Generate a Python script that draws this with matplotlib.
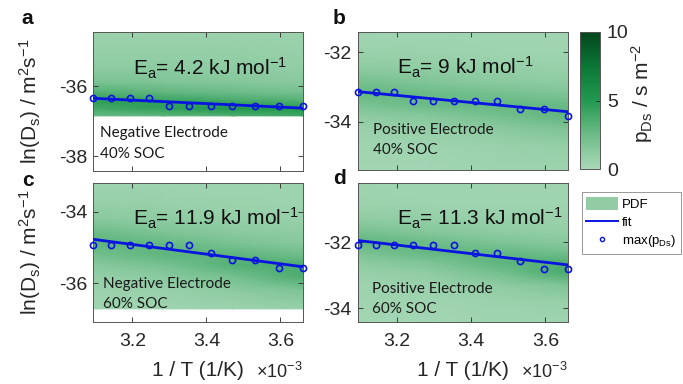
#!/usr/bin/env python3
"""Arrhenius plots of ln(D_s) with the PDF of D_s in the background."""

import matplotlib

matplotlib.use("Agg")
import matplotlib.pyplot as plt
import numpy as np
from matplotlib.colors import LinearSegmentedColormap
from matplotlib.lines import Line2D
from matplotlib.patches import Patch

plt.rcParams["font.family"] = ["Liberation Sans", "DejaVu Sans"]
plt.rcParams["axes.unicode_minus"] = False
plt.rcParams["mathtext.fontset"] = "custom"
plt.rcParams["mathtext.rm"] = "Liberation Sans"
plt.rcParams["mathtext.it"] = "Liberation Sans:italic"
plt.rcParams["mathtext.bf"] = "Liberation Sans:bold"

# 1/T in 1e-3 1/K (50 C down to 0 C in 5 C steps)
inv_T = [3.0945, 3.1432, 3.1934, 3.2452, 3.2987, 3.3540, 3.4112, 3.4704, 3.5317, 3.5952, 3.6610]
fit_x = [3.0945, 3.6610]

# max(p_Ds) per temperature
max_a = [-36.35, -36.35, -36.35, -36.35, -36.57, -36.57, -36.57, -36.57, -36.57, -36.57, -36.57]
max_b = [-33.15, -33.15, -33.15, -33.39, -33.39, -33.39, -33.39, -33.39, -33.62, -33.62, -33.84]
max_c = [-34.92, -34.92, -34.92, -34.92, -34.92, -34.92, -35.14, -35.35, -35.35, -35.58, -35.58]
max_d = [-32.09, -32.09, -32.09, -32.09, -32.09, -32.09, -32.33, -32.33, -32.57, -32.80, -32.80]

# fitted line end points
fit_a = [-36.35, -36.63]
fit_b = [-33.13, -33.71]
fit_c = [-34.77, -35.54]
fit_d = [-31.94, -32.68]

ea_labels = ["4.2", "9", "11.9", "11.3"]
electrodes = ["Negative Electrode", "Positive Electrode", "Negative Electrode", "Positive Electrode"]
socs = ["40% SOC", "40% SOC", "60% SOC", "60% SOC"]
ylims = [(-38.42, -34.47), (-35.39, -31.42), (-37.08, -33.19), (-34.40, -30.20)]

# coarse PDF grid estimated from the background shading (rows: lnD, cols: 1/T)
pdf_x = [3.0945, 3.283, 3.472, 3.661]
pdf_rows_a = [-34.40, -35.00, -35.50, -35.90, -36.20, -36.45, -36.65, -36.85]
pdf_a = [
    [0.6, 0.6, 0.6, 0.6],
    [0.9, 0.9, 0.9, 0.8],
    [1.2, 1.2, 1.1, 1.0],
    [2.0, 1.8, 1.6, 1.4],
    [3.5, 3.0, 2.6, 2.2],
    [4.6, 4.5, 4.0, 3.5],
    [3.8, 4.5, 5.0, 5.0],
    [2.6, 3.0, 3.5, 4.0],
]
pdf_rows_b = [-31.30, -32.00, -32.50, -32.90, -33.20, -33.50, -33.80, -34.20, -34.70, -35.50]
pdf_b = [
    [0.4, 0.4, 0.4, 0.4],
    [0.7, 0.6, 0.5, 0.4],
    [1.3, 1.1, 0.9, 0.8],
    [2.3, 1.8, 1.4, 1.2],
    [2.8, 2.6, 2.2, 1.8],
    [2.0, 2.6, 2.8, 2.6],
    [1.2, 1.6, 2.3, 3.0],
    [0.7, 0.9, 1.3, 1.8],
    [0.4, 0.5, 0.7, 0.9],
    [0.3, 0.3, 0.4, 0.5],
]
pdf_rows_c = [-33.10, -33.70, -34.20, -34.60, -34.90, -35.20, -35.50, -35.80, -36.20, -36.72]
pdf_c = [
    [0.5, 0.5, 0.5, 0.5],
    [0.8, 0.7, 0.6, 0.5],
    [1.4, 1.1, 0.9, 0.8],
    [2.6, 1.9, 1.4, 1.1],
    [3.0, 2.8, 2.0, 1.5],
    [2.2, 3.0, 3.0, 2.4],
    [1.4, 2.0, 3.3, 3.6],
    [0.9, 1.3, 2.3, 3.6],
    [0.6, 0.8, 1.2, 1.8],
    [0.4, 0.5, 0.6, 0.8],
]
pdf_rows_d = [-30.10, -30.80, -31.30, -31.70, -32.00, -32.30, -32.60, -32.90, -33.30, -33.80, -34.50]
pdf_d = [
    [0.4, 0.4, 0.4, 0.4],
    [0.6, 0.5, 0.5, 0.4],
    [1.1, 0.9, 0.8, 0.7],
    [2.2, 1.6, 1.2, 1.0],
    [2.9, 2.5, 1.8, 1.4],
    [2.0, 2.8, 2.8, 2.2],
    [1.2, 1.8, 3.0, 3.4],
    [0.8, 1.1, 2.2, 3.8],
    [0.5, 0.7, 1.1, 1.8],
    [0.4, 0.4, 0.6, 0.8],
    [0.3, 0.3, 0.4, 0.4],
]

cmap = LinearSegmentedColormap.from_list(
    "pdf_green",
    [(0.0, "#aad9b9"), (0.25, "#6dbc88"), (0.5, "#22994f"), (0.75, "#0b7636"), (1.0, "#03461d")],
)
LINE_BLUE = "#0a14e0"
AX_COLOR = "#262626"

W, H = 683, 384
fig = plt.figure(figsize=(W / 100, H / 100), dpi=100)


def rect(x0, y0, x1, y1):
    return [x0 / W, 1 - y1 / H, (x1 - x0) / W, (y1 - y0) / H]


rects = [
    rect(93.3, 32.3, 303.0, 171.0),
    rect(357.5, 32.3, 568.0, 170.0),
    rect(93.3, 183.0, 303.0, 321.7),
    rect(357.5, 183.0, 568.0, 321.7),
]
panels = [
    (pdf_rows_a, pdf_a, max_a, fit_a),
    (pdf_rows_b, pdf_b, max_b, fit_b),
    (pdf_rows_c, pdf_c, max_c, fit_c),
    (pdf_rows_d, pdf_d, max_d, fit_d),
]

mesh = None
for i, (rows, pdf, pts, fit) in enumerate(panels):
    ax = fig.add_axes(rects[i])
    mesh = ax.pcolormesh(pdf_x, rows, np.array(pdf), shading="gouraud", cmap=cmap, vmin=0, vmax=10)
    ax.plot(fit_x, fit, color=LINE_BLUE, lw=2.0, zorder=3)
    ax.plot(inv_T, pts, "o", ms=4.4, mfc="none", mec=LINE_BLUE, mew=1.2, zorder=4, clip_on=False)
    ax.set_xlim(fit_x[0], fit_x[1])
    ax.set_ylim(*ylims[i])
    ax.set_xticks([3.2, 3.4, 3.6])
    lo = int(np.ceil(ylims[i][0] / 2.0) * 2)
    ax.set_yticks(np.arange(lo, ylims[i][1], 2))
    ax.tick_params(direction="in", top=True, right=True, length=3.5, width=0.6,
                   color=AX_COLOR, labelcolor=AX_COLOR, labelsize=14, pad=4.5)
    ax.tick_params(axis="x", pad=8)
    for sp in ax.spines.values():
        sp.set_color("#555555")
        sp.set_linewidth(0.7)
    if i >= 2:
        ax.set_xticklabels(["3.2", "3.4", "3.6"])
    else:
        ax.set_xticklabels([])

    ax.text(0.19, 0.69, r"E$_\mathregular{a}$= " + ea_labels[i] + r" kJ mol$^\mathregular{-1}$",
            transform=ax.transAxes, fontsize=15, color="#111111", va="baseline", ha="left")
    tx = [0.032, 0.075, 0.047, 0.070][i]
    ty1 = [0.244, 0.264, 0.241, 0.204][i]
    ty2 = [0.096, 0.119, 0.097, 0.065][i]
    ax.text(tx, ty1, electrodes[i], transform=ax.transAxes, fontsize=11,
            family=["Lato", "DejaVu Sans"], color="#1a1a1a", va="baseline")
    ax.text(tx, ty2, socs[i], transform=ax.transAxes, fontsize=11,
            family=["Lato", "DejaVu Sans"], color="#1a1a1a", va="baseline")

    if i >= 2:
        ax.text(0.5, -0.35, "1 / T (1/K)", transform=ax.transAxes, fontsize=15,
                ha="center", va="center", color=AX_COLOR)
        ax.text(1.0, -0.405, r"$\times$10$^\mathregular{-3}$", transform=ax.transAxes,
                fontsize=13, ha="right", va="baseline", color=AX_COLOR)

# y labels, one per row
for yc in [101.5, 252.5]:
    fig.text(30 / W, 1 - yc / H, r"ln(D$_\mathregular{s}$) / m$^\mathregular{2}$s$^\mathregular{-1}$",
             rotation=90, fontsize=15, ha="center", va="center", color=AX_COLOR)

# panel letters
for letter, (px, py) in zip("abcd", [(27.5, 18), (339, 18), (27.5, 180), (339, 179)]):
    fig.text(px / W, 1 - py / H, letter, fontsize=15, fontweight="bold",
             ha="center", va="center", color="#111111")

# colorbar
cax = fig.add_axes(rect(580, 31.7, 600, 169.3))
cb = fig.colorbar(mesh, cax=cax, ticks=[0, 5, 10])
cb.outline.set_edgecolor("#555555")
cb.outline.set_linewidth(0.7)
cax.tick_params(direction="in", length=3, width=0.6, color=AX_COLOR,
                labelcolor=AX_COLOR, labelsize=14, pad=5)
fig.text(642 / W, 1 - 93 / H, r"p$_\mathregular{Ds}$ / s m$^\mathregular{-2}$",
         rotation=90, fontsize=15, ha="center", va="center", color=AX_COLOR)

# legend
handles = [
    Patch(facecolor="#93cba5", edgecolor="none"),
    Line2D([], [], color=LINE_BLUE, lw=1.4),
    Line2D([], [], ls="none", marker="o", ms=3, mfc="none", mec=LINE_BLUE, mew=1.0),
]
leg = fig.legend(handles, ["PDF", "fit", r"max(p$_\mathregular{Ds}$)"],
                 loc="upper left", bbox_to_anchor=(581.7 / W, 1 - 192.3 / H),
                 bbox_transform=fig.transFigure, fontsize=9.5, frameon=True, fancybox=False,
                 edgecolor="#7f7f7f", handlelength=2.4, handleheight=1.2, handletextpad=0.3,
                 borderpad=0.35, labelspacing=0.3, borderaxespad=0)
leg.get_frame().set_linewidth(0.7)

fig.savefig("out.png", dpi=100)
